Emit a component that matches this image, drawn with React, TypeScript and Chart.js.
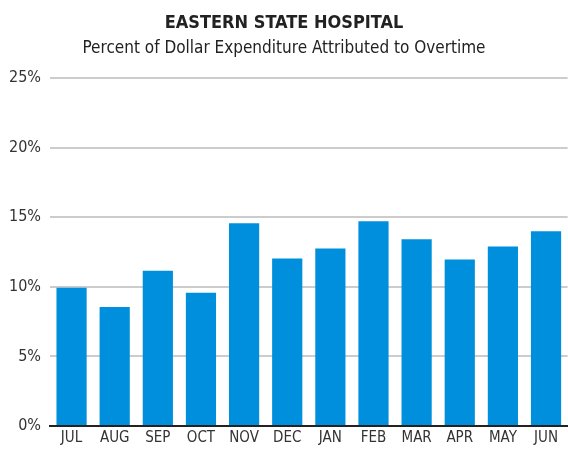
import React, { useEffect, useRef } from "react";
import { Chart, registerables } from "chart.js";

Chart.register(...registerables);

const months = ["JUL", "AUG", "SEP", "OCT", "NOV", "DEC", "JAN", "FEB", "MAR", "APR", "MAY", "JUN"];
const overtimePct = [9.93, 8.55, 11.16, 9.57, 14.57, 12.03, 12.75, 14.71, 13.41, 11.96, 12.9, 13.99];
const yTicks = [0, 5, 10, 15, 20, 25];

const FONT = "'Liberation Sans Narrow', 'DejaVu Sans Condensed', 'Roboto Condensed', sans-serif";

export default function App() {
  const ref = useRef<HTMLCanvasElement | null>(null);
  useEffect(() => {
    if (!ref.current) return;
    const chart = new Chart(ref.current, {
      type: "bar",
      data: {
        labels: months,
        datasets: [
          {
            data: overtimePct,
            backgroundColor: "#008FDD",
            categoryPercentage: 0.7,
            barPercentage: 1,
          },
        ],
      },
      options: {
        animation: false,
        responsive: false,
        maintainAspectRatio: false,
        layout: { padding: { left: 0, right: 0, top: 13, bottom: 0 } },
        plugins: {
          legend: { display: false },
          tooltip: { enabled: false },
          title: {
            display: true,
            text: "EASTERN STATE HOSPITAL",
            color: "#222",
            font: { family: FONT, size: 18, weight: "bold" },
            padding: { top: 0, bottom: 4 },
          },
          subtitle: {
            display: true,
            text: "Percent of Dollar Expenditure Attributed to Overtime",
            color: "#222",
            font: { family: FONT, size: 17 },
            padding: { top: 0, bottom: 19 },
          },
        },
        scales: {
          x: {
            grid: { display: false, drawTicks: false },
            border: { display: true, color: "#222", width: 2 },
            ticks: { color: "#333", font: { family: FONT, size: 15, lineHeight: 0.33 }, padding: 10 },
          },
          y: {
            min: 0,
            max: 25,
            afterBuildTicks: (scale: any) => {
              scale.ticks = yTicks.map((v) => ({ value: v }));
            },
            grid: { color: "#cccccc", lineWidth: 2, drawTicks: false },
            border: { display: false },
            ticks: {
              color: "#333",
              font: { family: FONT, size: 16 },
              padding: 9,
              callback: (v: any) => v + "%",
            },
          },
        },
      },
    });
    return () => chart.destroy();
  }, []);
  return (
    <div style={{ position: "fixed", left: 0, top: 0, width: 568, height: 451, background: "#fff" }}>
      <canvas ref={ref} width={568} height={451} style={{ width: 568, height: 451 }} />
    </div>
  );
}
